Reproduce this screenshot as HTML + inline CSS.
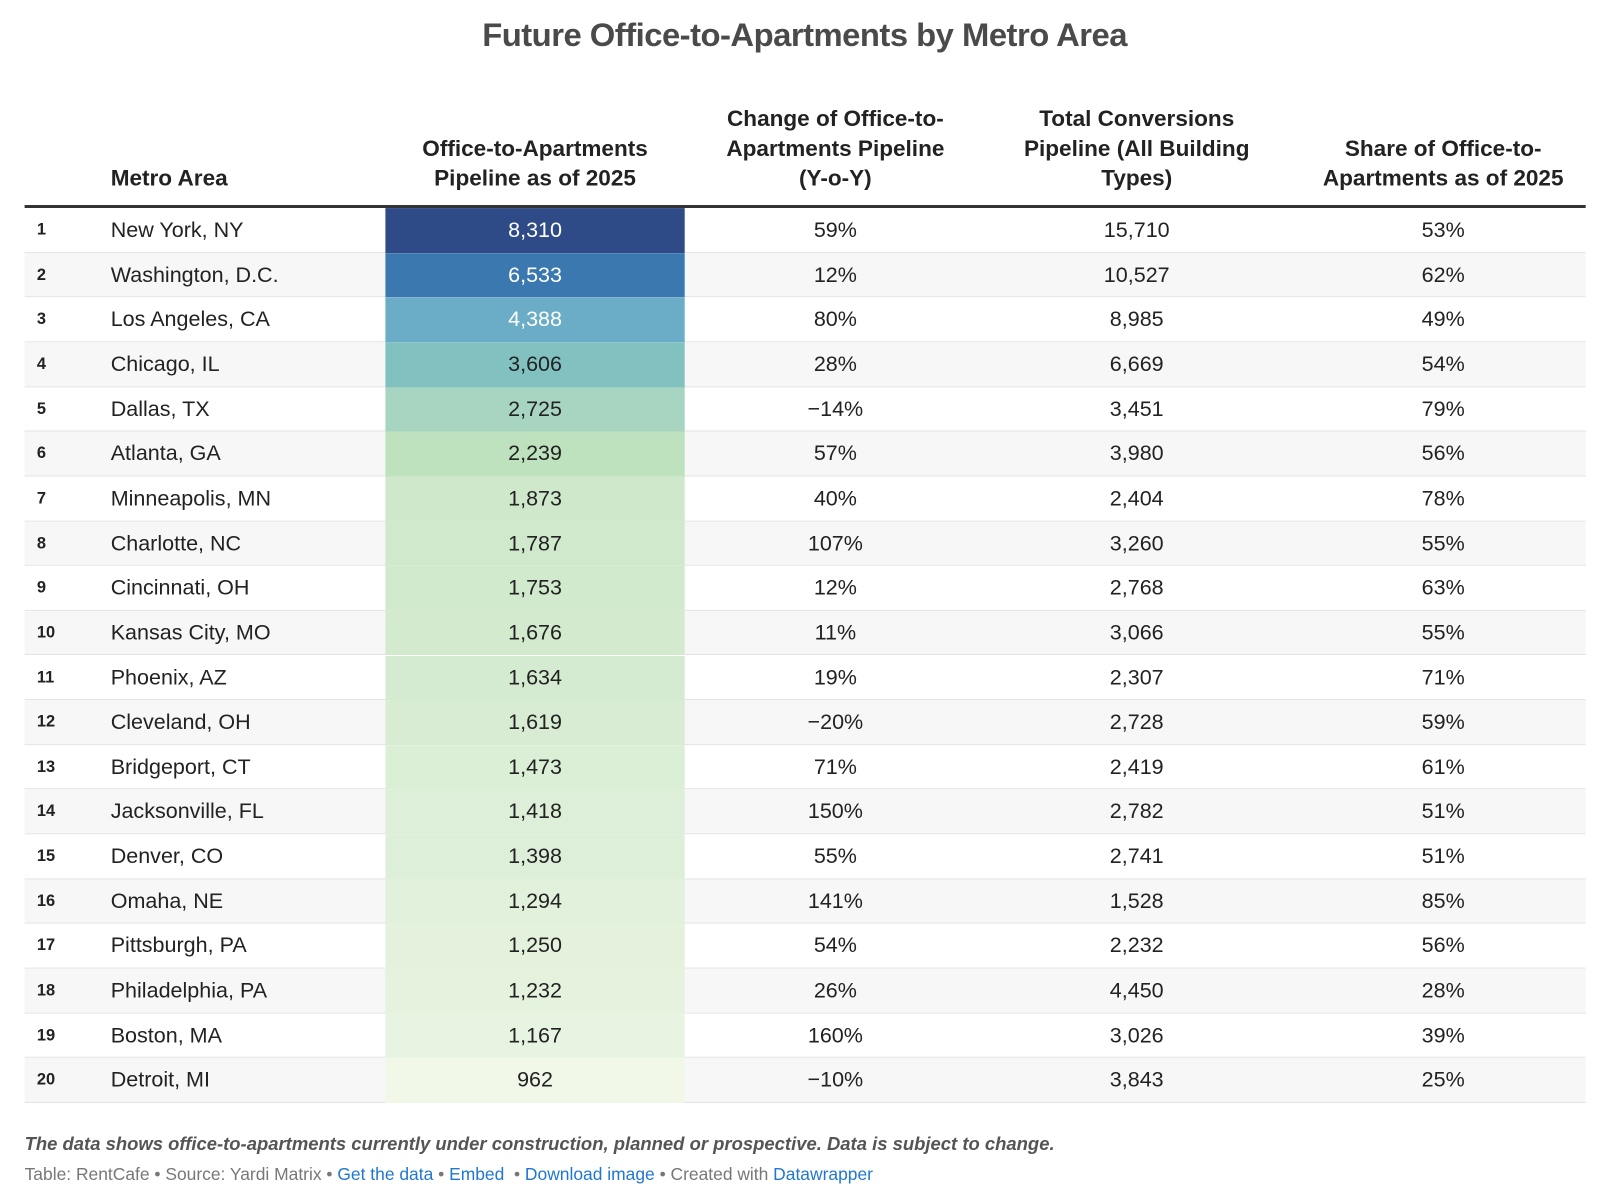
<!DOCTYPE html>
<html><head><meta charset="utf-8"><style>
body{margin:0;width:1607px;height:1200px;background:#fff;font-family:"Liberation Sans",sans-serif;color:#222;position:relative;overflow:hidden}
#w{position:absolute;left:0;top:0;width:1560px;height:1165px;transform:scale(1.025);transform-origin:0 0}
.t{position:absolute;left:0;width:1570px;text-align:center;top:16px;font-size:32px;font-weight:bold;color:#4a4a4a;letter-spacing:-0.5px}
.h{position:absolute;font-weight:bold;font-size:22px;line-height:29px;text-align:center;color:#222;top:100px;height:88px;display:flex;align-items:flex-end;justify-content:center}
.row{position:absolute;left:24px;width:1523px;height:43.65px;border-bottom:1px solid #e3e3e3;box-sizing:border-box;font-size:21px}
.row div{position:absolute;top:0;line-height:43px}
.rk{left:12px;font-size:16px;font-weight:bold}
.nm{left:84px}
.c2{left:352px;width:292px;height:43.65px;text-align:center}
.c3{left:644px;width:294px;text-align:center}
.c4{left:938px;width:294px;text-align:center}
.c5{left:1232px;width:304px;text-align:center}
.foot1{position:absolute;left:24px;top:1106px;font-size:18px;font-style:italic;font-weight:bold;color:#555}
.foot2{position:absolute;left:24px;top:1136px;font-size:17px;color:#777}
.foot2 a{color:#1f77d0;text-decoration:none}
</style></head><body><div id="w">
<div class="t">Future Office-to-Apartments by Metro Area</div>
<div class="h" style="left:108px;justify-content:flex-start">Metro Area</div>
<div class="h" style="left:376px;width:292px">Office-to-Apartments<br>Pipeline as of 2025</div>
<div class="h" style="left:668px;width:294px">Change of Office-to-<br>Apartments Pipeline<br>(Y-o-Y)</div>
<div class="h" style="left:962px;width:294px">Total Conversions<br>Pipeline (All Building<br>Types)</div>
<div class="h" style="left:1256px;width:304px">Share of Office-to-<br>Apartments as of 2025</div>
<div style="position:absolute;left:24px;top:200px;width:1523px;height:3px;background:#333"></div>
<div id="rows"></div>
<div class="foot1">The data shows office-to-apartments currently under construction, planned or prospective. Data is subject to change.</div>
<div class="foot2">Table: RentCafe • Source: Yardi Matrix • <a>Get the data</a> • <a>Embed</a> &nbsp;• <a>Download image</a> • Created with <a>Datawrapper</a></div>
</div>
<script>
var d=[["New York, NY","8,310","59%","15,710","53%","#2f4b87"],["Washington, D.C.","6,533","12%","10,527","62%","#3b78b0"],["Los Angeles, CA","4,388","80%","8,985","49%","#6badc7"],["Chicago, IL","3,606","28%","6,669","54%","#81c2c1"],["Dallas, TX","2,725","−14%","3,451","79%","#a8d5c2"],["Atlanta, GA","2,239","57%","3,980","56%","#bde2bd"],["Minneapolis, MN","1,873","40%","2,404","78%","#cfe8cc"],["Charlotte, NC","1,787","107%","3,260","55%","#d0e9cc"],["Cincinnati, OH","1,753","12%","2,768","63%","#d1e9cd"],["Kansas City, MO","1,676","11%","3,066","55%","#d3eacf"],["Phoenix, AZ","1,634","19%","2,307","71%","#d5ebd1"],["Cleveland, OH","1,619","−20%","2,728","59%","#d7ecd2"],["Bridgeport, CT","1,473","71%","2,419","61%","#dbeed6"],["Jacksonville, FL","1,418","150%","2,782","51%","#ddefd8"],["Denver, CO","1,398","55%","2,741","51%","#deefd9"],["Omaha, NE","1,294","141%","1,528","85%","#e2f1dc"],["Pittsburgh, PA","1,250","54%","2,232","56%","#e4f2dd"],["Philadelphia, PA","1,232","26%","4,450","28%","#e5f2de"],["Boston, MA","1,167","160%","3,026","39%","#e8f4e2"],["Detroit, MI","962","−10%","3,843","25%","#f1f8e8"]];
var h="";d.forEach(function(r,i){var top=203+i*43.65;var bg=i%2?"#f7f7f7":"#fff";var fc=i<3?"#fff":"#222";
h+='<div class="row" style="top:'+top+'px;background:'+bg+'"><div class="rk">'+(i+1)+'</div><div class="nm">'+r[0]+'</div><div class="c2" style="background:'+r[5]+';color:'+fc+'">'+r[1]+'</div><div class="c3">'+r[2]+'</div><div class="c4">'+r[3]+'</div><div class="c5">'+r[4]+'</div></div>';});
document.getElementById("rows").innerHTML=h;
</script>
</body></html>
